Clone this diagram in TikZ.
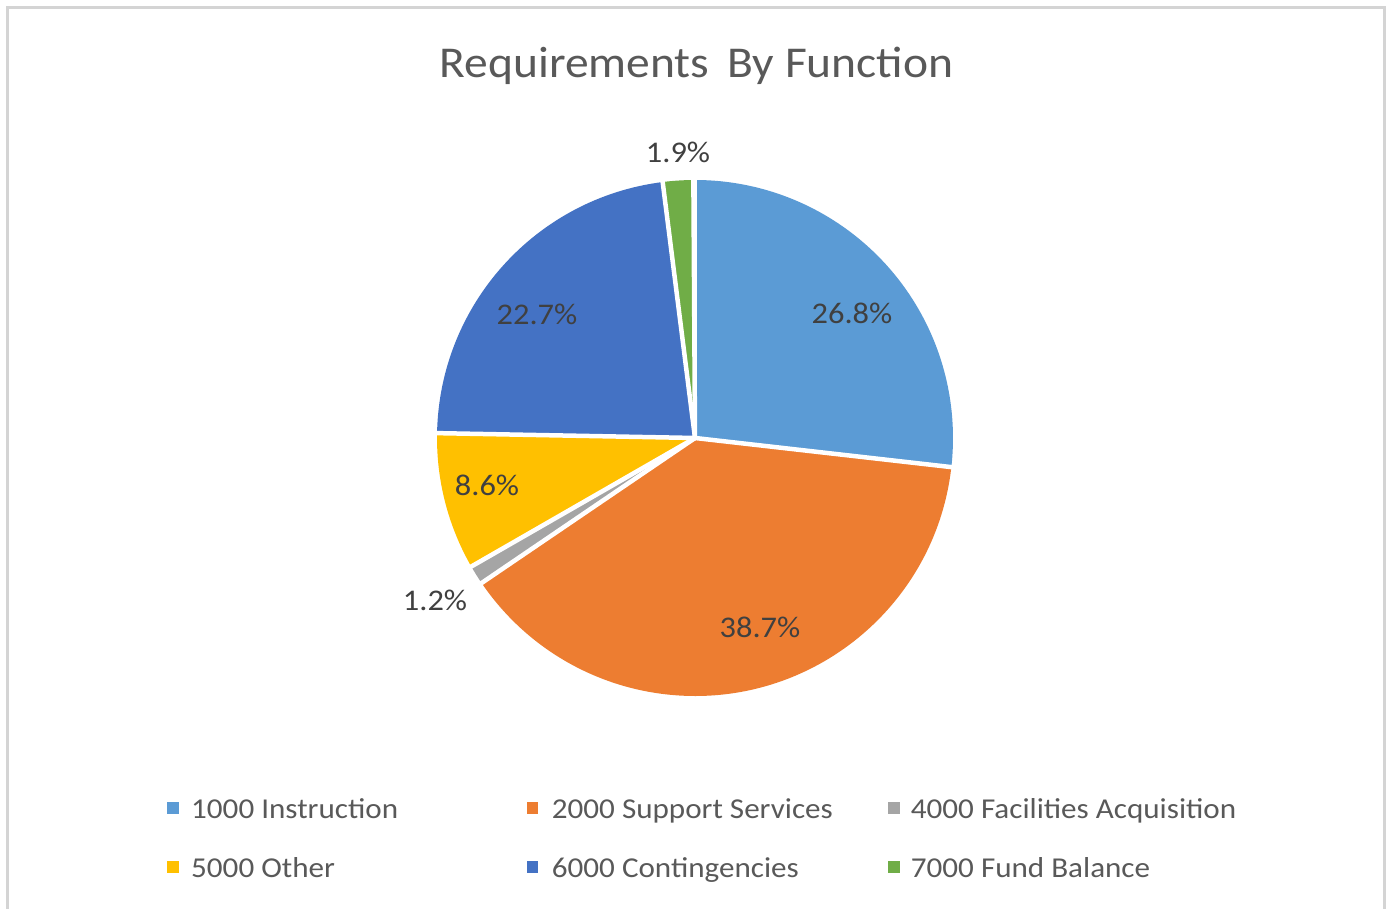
\documentclass[tikz,border=0pt]{standalone}
\usepackage{fontspec}
\setmainfont{Carlito}[FakeStretch=1.08]
\definecolor{cBlue}{HTML}{5B9BD5}
\definecolor{cOrange}{HTML}{ED7D31}
\definecolor{cGray}{HTML}{A5A5A5}
\definecolor{cYellow}{HTML}{FFC000}
\definecolor{cDark}{HTML}{4472C4}
\definecolor{cGreen}{HTML}{70AD47}
\definecolor{txtDark}{HTML}{404040}
\definecolor{txtMid}{HTML}{595959}
\definecolor{frameGray}{HTML}{D4D4D4}
\begin{document}
\begin{tikzpicture}[x=1pt,y=1pt,
  slicesep/.style={draw=white,line width=4.5pt,line cap=round},
  pctlabel/.style={anchor=base,inner sep=0pt,text=txtDark,font=\fontsize{30}{36}\selectfont},
  legtext/.style={anchor=base west,inner sep=0pt,text=txtMid,font=\fontsize{28.8}{34}\selectfont},
  legmark/.style={minimum size=11.5pt,inner sep=0pt,draw=none}
]
\useasboundingbox (0,0) rectangle (1391,909);
\fill[white] (0,0) rectangle (1391,909);
% frame
\draw[frameGray,line width=3pt] (7.5,-5) -- (7.5,901.5) -- (1384,901.5) -- (1384,-5);
% title
\node[anchor=base,inner sep=0pt,text=txtMid,font=\fontsize{44}{52}\selectfont] (title) at (696.5,831) {Requirements\ \,By Function};
% pie
\coordinate (C) at (695,471);
\def\R{258}
\fill[cBlue]   (C) -- ++(90:\R)      arc[start angle=90,      end angle=-6.48,    radius=\R] -- cycle;
\fill[cOrange] (C) -- ++(-6.48:\R)   arc[start angle=-6.48,   end angle=-145.8,   radius=\R] -- cycle;
\fill[cGray]   (C) -- ++(-145.8:\R)  arc[start angle=-145.8,  end angle=-150.12,  radius=\R] -- cycle;
\fill[cYellow] (C) -- ++(-150.12:\R) arc[start angle=-150.12, end angle=-181.08,  radius=\R] -- cycle;
\fill[cDark]   (C) -- ++(-181.08:\R) arc[start angle=-181.08, end angle=-262.8,   radius=\R] -- cycle;
\fill[cGreen]  (C) -- ++(-262.8:\R)  arc[start angle=-262.8,  end angle=-269.64,  radius=\R] -- cycle;
\foreach \a in {90,-6.48,-145.8,-150.12,-181.08,-262.8,-269.64}
  \draw[slicesep] (C) -- ++(\a:\R+3);
% percentage labels
\node[pctlabel] (p1) at (852,585.7) {26.8\%};
\node[pctlabel] (p2) at (760,271) {38.7\%};
\node[pctlabel] (p3) at (435,298.5) {1.2\%};
\node[pctlabel] (p4) at (487,413) {8.6\%};
\node[pctlabel] (p5) at (537,584) {22.7\%};
\node[pctlabel] (p6) at (678,746) {1.9\%};
% legend
\node[legmark,fill=cBlue]   (m1) at (173,101) {};
\node[legtext] (l1) at (191,90.7) {1000 Instruction};
\node[legmark,fill=cOrange] (m2) at (532.5,101) {};
\node[legtext] (l2) at (551.7,90.7) {2000 Support Services};
\node[legmark,fill=cGray]   (m3) at (894,101) {};
\node[legtext] (l3) at (910.7,90.7) {4000 Facilities Acquisition};
\node[legmark,fill=cYellow] (m4) at (173,42) {};
\node[legtext] (l4) at (191,31) {5000 Other};
\node[legmark,fill=cDark]   (m5) at (532.5,42) {};
\node[legtext] (l5) at (551.7,31) {6000 Contingencies};
\node[legmark,fill=cGreen]  (m6) at (894,42) {};
\node[legtext] (l6) at (910.7,31) {7000 Fund Balance};
\end{tikzpicture}
\end{document}
